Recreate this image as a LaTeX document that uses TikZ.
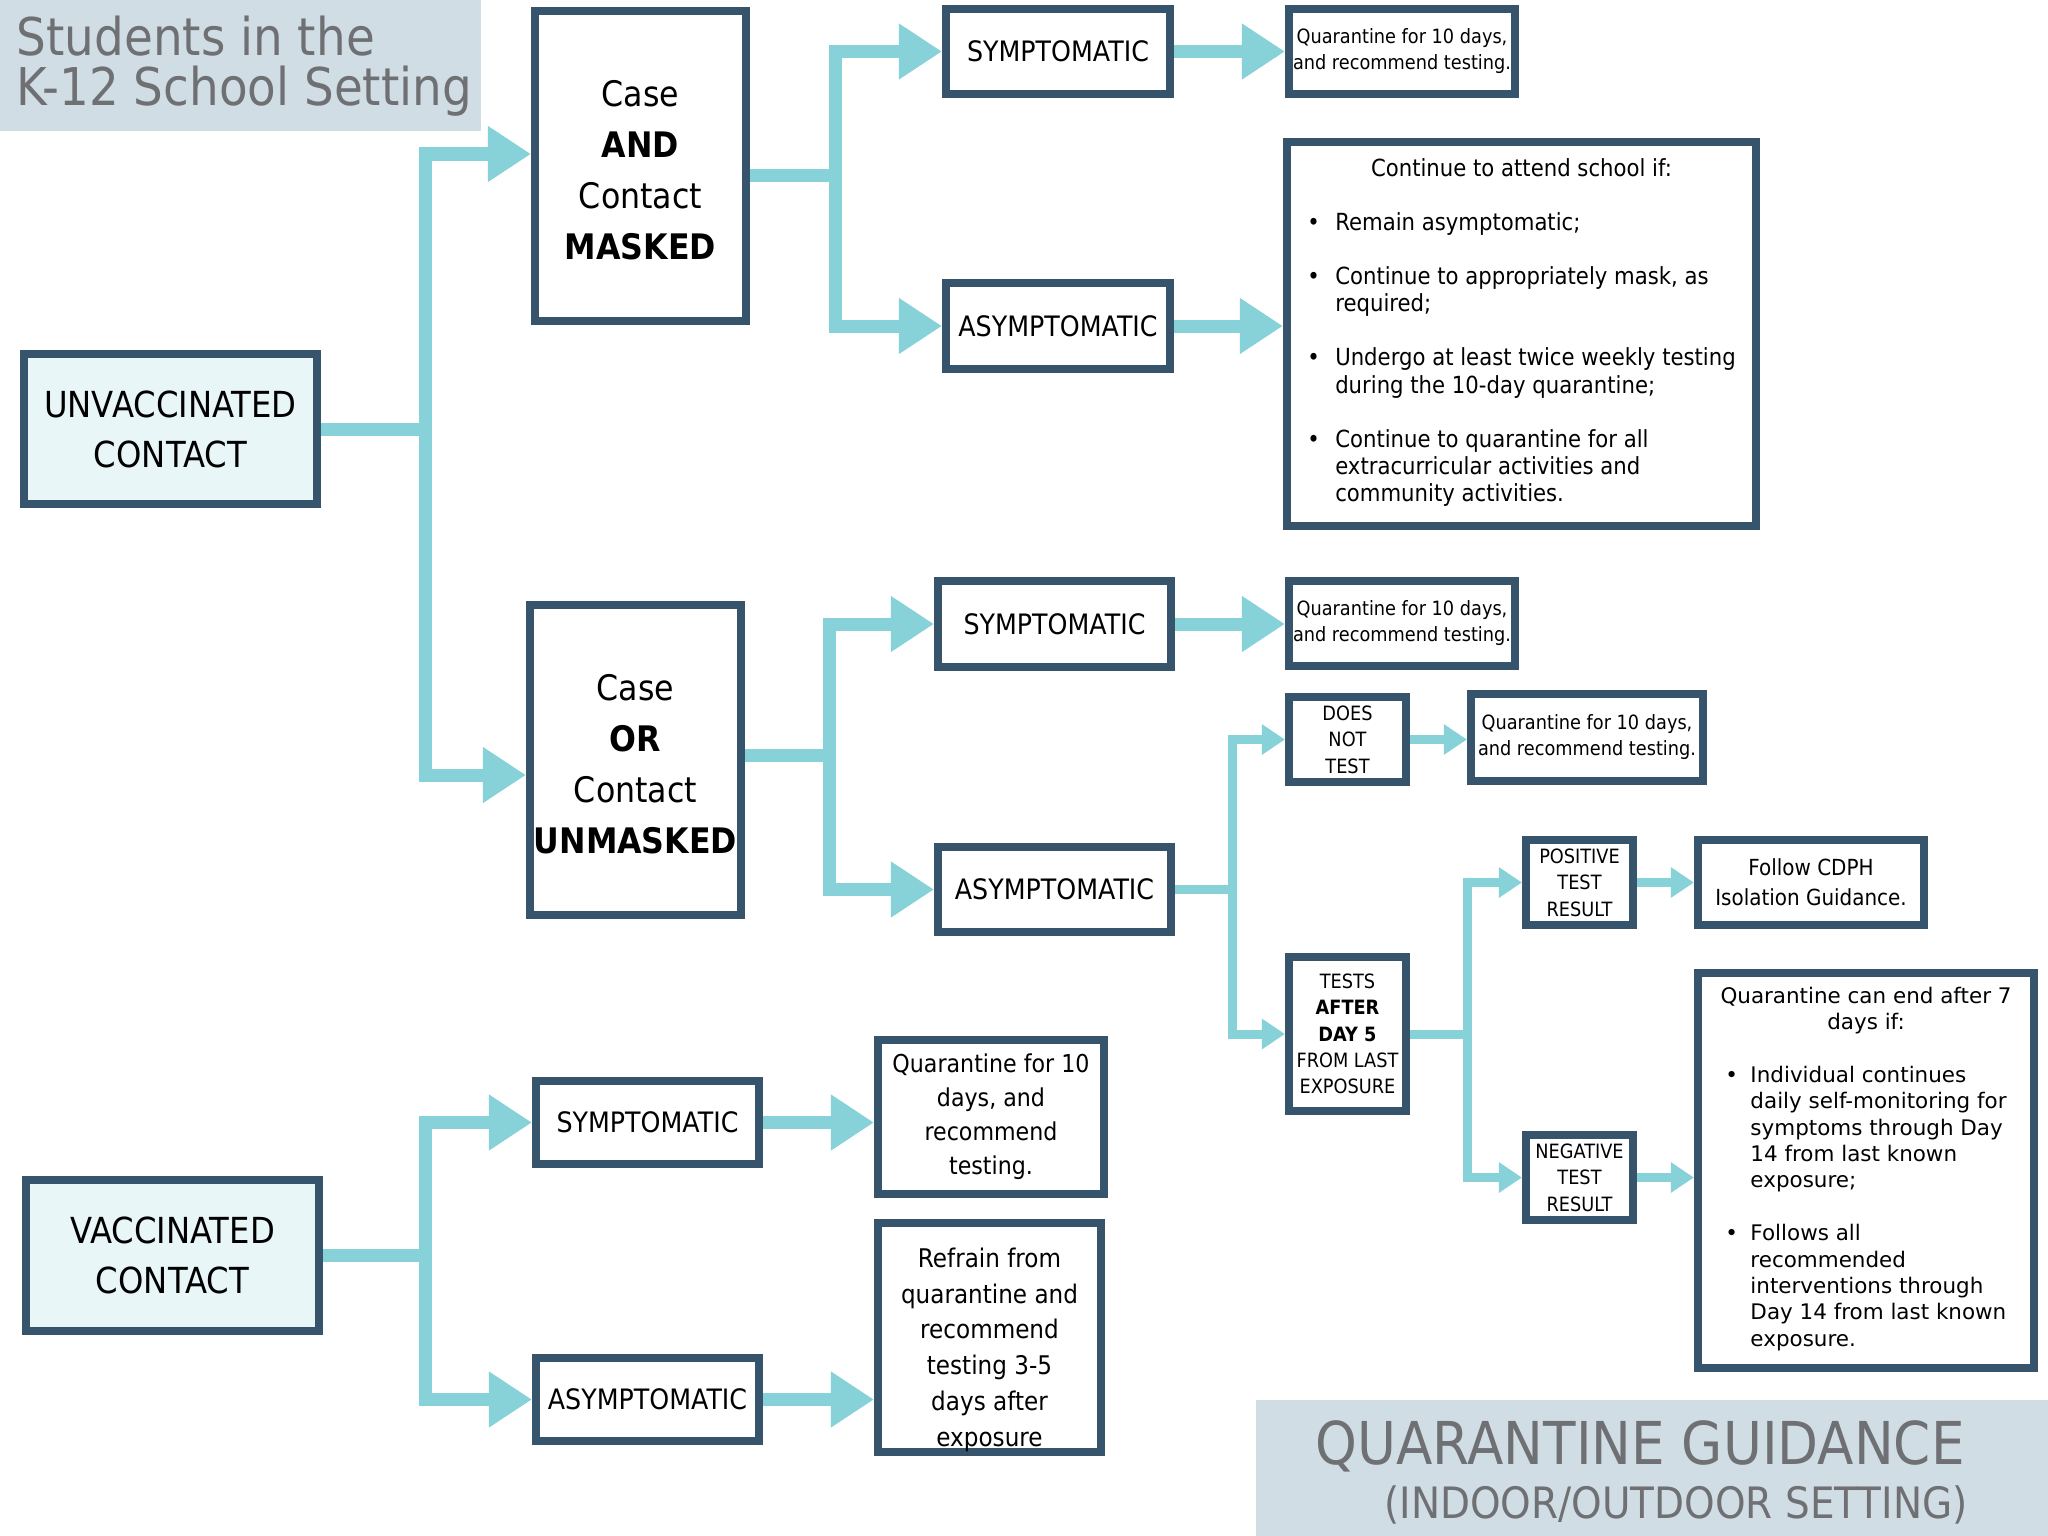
\documentclass[tikz,border=0pt]{standalone}
\usepackage{fontspec}
\setmainfont[FakeStretch=0.9]{DejaVu Sans}
\newfontfamily\widefont{DejaVu Sans}
\usepackage{tikz}
\usetikzlibrary{
    arrows.meta,
    backgrounds
}

\definecolor{boxline}{RGB}{54,84,108}
\definecolor{flow}{RGB}{135,209,216}
\definecolor{pale}{RGB}{232,246,248}
\definecolor{bannerfill}{RGB}{209,221,228}
\definecolor{bannertext}{RGB}{110,112,115}

\tikzset{
    box/.style={draw=boxline, line width=0.08cm, fill=white, inner sep=0pt, align=center},
    contactbox/.style={box, fill=pale, minimum width=2.93cm, minimum height=1.5cm, font=\fontsize{10.2}{14.2}\selectfont},
    casebox/.style={box, minimum width=2.11cm, minimum height=3.1cm, font=\fontsize{10}{14.5}\selectfont},
    statebox/.style={box, minimum width=2.24cm, minimum height=0.85cm, font=\fontsize{8}{10}\selectfont},
    notebox/.style={box, minimum width=2.26cm, minimum height=0.85cm, font=\fontsize{5.6}{7.4}\selectfont},
    resultbox/.style={box, minimum width=1.07cm, minimum height=0.85cm, font=\fontsize{5.6}{7.5}\selectfont},
    bigflow/.style={draw=flow, line width=0.13cm, >={Triangle[length=0.43cm,width=0.53cm]}},
    smallflow/.style={draw=flow, line width=0.09cm, >={Triangle[length=0.23cm,width=0.29cm]}},
    banner/.style={text=bannertext, inner sep=0pt}
}

\begin{document}
\begin{tikzpicture}[x=0.01cm,y=-0.01cm]
\useasboundingbox (0,0) rectangle (2048,1536);

% Headings
\fill[bannerfill] (0,0) rectangle (481,131);
\node[banner, anchor=west, align=left, font=\fontsize{14.8}{14.3}\selectfont] (heading) at (16,66) {Students in the\\K-12 School Setting};
\fill[bannerfill] (1256,1400) rectangle (2048,1536);
\node[banner, font=\fontsize{16.8}{20}\selectfont] (guide) at (1640,1446) {QUARANTINE GUIDANCE};
\node[banner, font=\fontsize{12.3}{15}\selectfont] (setting) at (1676,1505) {(INDOOR/OUTDOOR SETTING)};

% Unvaccinated contact
\node[contactbox] (unvax) at (170.5,429) {UNVACCINATED\\CONTACT};
\node[casebox] (caseand) at (640.5,166) {\rule{0pt}{10pt}Case\\\textbf{AND}\\Contact\\\textbf{MASKED}};
\node[statebox] (symp1) at (1058,51.5) {SYMPTOMATIC};
\node[statebox] (asymp1) at (1058,326) {ASYMPTOMATIC};
\node[notebox] (quar1) at (1402,51.5) {Quarantine for 10 days,\\and recommend testing.};
\node[box, minimum width=4.69cm, minimum height=3.84cm, font=\fontsize{6.7}{7.7}\selectfont] (attend) at (1521.5,334) {Continue to attend school if:\\[7.7pt]
  \begin{tabular}[t]{@{}p{0.28cm}@{}l@{}}
  \textbullet & Remain asymptomatic;\\[7.7pt]
  \textbullet & Continue to appropriately mask, as\\
              & required;\\[7.7pt]
  \textbullet & Undergo at least twice weekly testing\\
              & during the 10-day quarantine;\\[7.7pt]
  \textbullet & Continue to quarantine for all\\
              & extracurricular activities and\\
              & community activities.
  \end{tabular}};

\node[casebox] (caseor) at (635.5,760) {\rule{0pt}{10pt}Case\\\textbf{OR}\\Contact\\\textbf{UNMASKED}};
\node[statebox, minimum width=2.33cm] (symp2) at (1054.5,624) {SYMPTOMATIC};
\node[statebox, minimum width=2.33cm] (asymp2) at (1054.5,889.5) {ASYMPTOMATIC};
\node[notebox] (quar2) at (1402,623.5) {Quarantine for 10 days,\\and recommend testing.};
\node[resultbox, minimum width=1.17cm] (notest) at (1347.5,739.5) {DOES\\NOT\\TEST};
\node[notebox, minimum width=2.32cm, minimum height=0.87cm] (quar3) at (1587,737.5) {Quarantine for 10 days,\\and recommend testing.};
\node[resultbox, minimum width=1.17cm, minimum height=1.54cm] (tests) at (1347.5,1034) {TESTS\\\textbf{AFTER}\\\textbf{DAY 5}\\FROM LAST\\EXPOSURE};
\node[resultbox] (pos) at (1579.5,882.5) {POSITIVE\\TEST\\RESULT};
\node[box, minimum width=2.26cm, minimum height=0.85cm, font=\fontsize{6.3}{8.5}\selectfont] (cdph) at (1811,882.5) {Follow CDPH\\Isolation Guidance.};
\node[resultbox] (neg) at (1579.5,1177.5) {NEGATIVE\\TEST\\RESULT};
\node[box, minimum width=3.36cm, minimum height=3.95cm, font=\widefont\fontsize{6.1}{7.5}\selectfont] (qend) at (1866,1170.5) {Quarantine can end after 7\\days if:\\[7.5pt]
  \begin{tabular}[t]{@{}p{0.25cm}@{}l@{}}
  \textbullet & Individual continues\\
              & daily self-monitoring for\\
              & symptoms through Day\\
              & 14 from last known\\
              & exposure;\\[7.5pt]
  \textbullet & Follows all\\
              & recommended\\
              & interventions through\\
              & Day 14 from last known\\
              & exposure.
  \end{tabular}};

% Vaccinated contact
\node[contactbox] (vax) at (172.5,1255.5) {VACCINATED\\CONTACT};
\node[statebox, minimum width=2.23cm, minimum height=0.83cm] (symp3) at (647.5,1122.5) {SYMPTOMATIC};
\node[statebox, minimum width=2.23cm, minimum height=0.83cm] (asymp3) at (647.5,1399.5) {ASYMPTOMATIC};
\node[box, minimum width=2.26cm, minimum height=1.54cm, font=\fontsize{7}{9.7}\selectfont] (quar4) at (991,1117) {Quarantine for 10\\days, and\\recommend\\testing.};
\node[box, minimum width=2.23cm, minimum height=2.29cm, font=\fontsize{7.3}{10.2}\selectfont] (refrain) at (989.5,1337.5) {\rule{0pt}{12.5pt}Refrain from\\quarantine and\\recommend\\testing 3-5\\days after\\exposure};

% Connectors behind the boxes
\begin{pgfonlayer}{background}
\coordinate (ub) at (425,429);
\draw[bigflow] (unvax.east) -- (ub);
\draw[bigflow, <->] ([yshift=0.12cm]caseand.west) -| (ub) |- ([yshift=-0.15cm]caseor.west);

\coordinate (ab) at (835,175);
\draw[bigflow] (caseand.east |- ab) -- (ab);
\draw[bigflow, <->] (symp1.west) -| (ab) |- (asymp1.west);
\draw[bigflow, ->] (symp1.east) -- (quar1.west);
\draw[bigflow, ->] (asymp1.east) -- (asymp1.east -| attend.west);

\coordinate (ob) at (829,755);
\draw[bigflow] (caseor.east |- ob) -- (ob);
\draw[bigflow, <->] (symp2.west) -| (ob) |- (asymp2.west);
\draw[bigflow, ->] (symp2.east) -- (symp2.east -| quar2.west);

\coordinate (tb) at (1232,889.5);
\draw[smallflow] (asymp2.east) -- (tb);
\draw[smallflow, <->] (notest.west) -| (tb) |- (tests.west);
\draw[smallflow, ->] (notest.east) -- (notest.east -| quar3.west);

\coordinate (rb) at (1467,1034);
\draw[smallflow] (tests.east) -- (rb);
\draw[smallflow, <->] (pos.west) -| (rb) |- (neg.west);
\draw[smallflow, ->] (pos.east) -- (cdph.west);
\draw[smallflow, ->] (neg.east) -- (neg.east -| qend.west);

\coordinate (vb) at (425,1255.5);
\draw[bigflow] (vax.east) -- (vb);
\draw[bigflow, <->] (symp3.west) -| (vb) |- (asymp3.west);
\draw[bigflow, ->] (symp3.east) -- (symp3.east -| quar4.west);
\draw[bigflow, ->] (asymp3.east) -- (asymp3.east -| refrain.west);
\end{pgfonlayer}

\end{tikzpicture}
\end{document}
